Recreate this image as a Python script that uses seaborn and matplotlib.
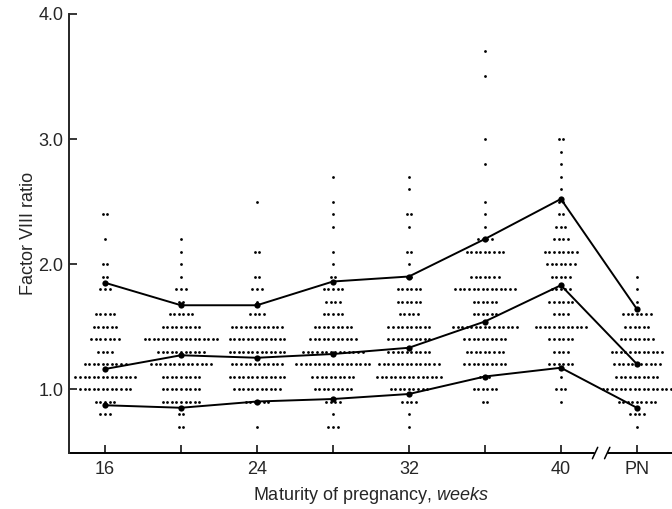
import matplotlib
matplotlib.use("Agg")
import matplotlib.pyplot as plt
import matplotlib.transforms as mtransforms
import numpy as np
import pandas as pd
import seaborn as sns

# groups along the x axis
weeks = ["16", "20", "24", "28", "32", "36", "40", "PN"]
tick_labels = ["16", "", "24", "", "32", "", "40", "PN"]

# individual results: ratio level -> number of women at that level
wk16 = {2.4: 2, 2.2: 1, 2.0: 2, 1.9: 2, 1.8: 3, 1.6: 5, 1.5: 6, 1.4: 7, 1.3: 4,
        1.2: 10, 1.1: 14, 1.0: 12, 0.9: 5, 0.8: 3}
wk20 = {2.2: 1, 2.1: 1, 2.0: 1, 1.9: 1, 1.8: 3, 1.7: 2, 1.6: 6, 1.5: 9, 1.4: 17,
        1.3: 11, 1.2: 14, 1.1: 9, 1.0: 9, 0.9: 9, 0.8: 2, 0.7: 2}
wk24 = {2.5: 1, 2.1: 2, 1.9: 2, 1.8: 3, 1.7: 1, 1.6: 4, 1.5: 12, 1.4: 13, 1.3: 13,
        1.2: 12, 1.1: 13, 1.0: 11, 0.9: 6, 0.7: 1}
wk28 = {2.7: 1, 2.5: 1, 2.4: 1, 2.3: 1, 2.1: 1, 2.0: 1, 1.9: 2, 1.8: 5, 1.7: 4,
        1.6: 5, 1.5: 9, 1.4: 11, 1.3: 14, 1.2: 17, 1.1: 10, 1.0: 9, 0.9: 4,
        0.8: 1, 0.7: 3}
wk32 = {2.7: 1, 2.6: 1, 2.4: 2, 2.3: 1, 2.1: 2, 2.0: 1, 1.9: 2, 1.8: 6, 1.7: 6,
        1.6: 5, 1.5: 10, 1.4: 10, 1.3: 10, 1.2: 14, 1.1: 15, 1.0: 9, 0.9: 4,
        0.8: 1, 0.7: 1}
wk36 = {3.7: 1, 3.5: 1, 3.0: 1, 2.8: 1, 2.5: 1, 2.4: 1, 2.3: 1, 2.2: 4, 2.1: 9,
        1.9: 7, 1.8: 14, 1.7: 6, 1.6: 6, 1.5: 15, 1.4: 10, 1.3: 9, 1.2: 10,
        1.1: 3, 1.0: 6, 0.9: 2}
wk40 = {3.0: 2, 2.9: 1, 2.8: 1, 2.7: 1, 2.6: 1, 2.5: 2, 2.4: 2, 2.3: 3, 2.2: 4,
        2.1: 8, 2.0: 7, 1.9: 5, 1.8: 5, 1.7: 6, 1.6: 4, 1.5: 12, 1.4: 6, 1.3: 4,
        1.2: 6, 1.1: 1, 1.0: 3, 0.9: 1}
postnatal = {1.9: 1, 1.8: 1, 1.7: 1, 1.6: 7, 1.5: 6, 1.4: 8, 1.3: 12, 1.2: 11,
             1.1: 10, 1.0: 16, 0.9: 9, 0.8: 4, 0.7: 1}

# centile lines
upper = [1.85, 1.67, 1.67, 1.86, 1.90, 2.20, 2.52, 1.64]
median = [1.16, 1.27, 1.25, 1.28, 1.33, 1.54, 1.83, 1.20]
lower = [0.87, 0.85, 0.90, 0.92, 0.96, 1.10, 1.17, 0.85]

groups = [wk16, wk20, wk24, wk28, wk32, wk36, wk40, postnatal]

# spread each level into a centred row of dots
spacing = 0.06
rows = []
for i, grp in enumerate(groups):
    for level, n in grp.items():
        offs = (np.arange(n) - (n - 1) / 2) * spacing
        for o in offs:
            rows.append({"pos": i + o, "ratio": level})
dots = pd.DataFrame(rows)

lines = pd.DataFrame({
    "pos": list(range(len(weeks))) * 3,
    "ratio": upper + median + lower,
    "centile": ["upper"] * 8 + ["median"] * 8 + ["lower"] * 8,
})

sns.set_style("ticks")
plt.rcParams["font.family"] = ["Liberation Sans", "DejaVu Sans"]
plt.rcParams["mathtext.fontset"] = "custom"
plt.rcParams["mathtext.rm"] = "Liberation Sans"
plt.rcParams["mathtext.it"] = "Liberation Sans:italic"

fig = plt.figure(figsize=(6.72, 5.09), dpi=100)
ax = fig.add_axes([0.1027, 0.110, 0.897, 0.8625])

sns.scatterplot(data=dots, x="pos", y="ratio", s=4, color="black",
                linewidth=0, ax=ax, legend=False)
sns.lineplot(data=lines, x="pos", y="ratio", units="centile", estimator=None,
             color="black", lw=1.4, marker="o", markersize=4.5,
             markeredgewidth=0, ax=ax, legend=False)

ax.set_xlim(-0.474, 7.46)
ax.set_ylim(0.488, 4.0)
ax.set_xticks(range(len(weeks)))
ax.set_xticklabels(tick_labels, fontsize=13)
ax.set_yticks([1.0, 2.0, 3.0, 4.0])
ax.set_yticklabels(["1.0", "2.0", "3.0", "4.0"], fontsize=13)
ax.tick_params(axis="both", direction="in", length=6, width=1.1, color="black")
ax.tick_params(axis="x", pad=6)
ax.tick_params(axis="y", pad=4)

ax.set_xlabel("Maturity of pregnancy, $\\mathit{weeks}$", fontsize=13, labelpad=5)
ax.set_ylabel("Factor VIII ratio", fontsize=13, labelpad=1)

sns.despine(ax=ax, top=True, right=True)
ax.spines["left"].set_linewidth(1.4)
ax.spines["bottom"].set_visible(False)

# broken x axis between 40 weeks and postnatal
tr = mtransforms.blended_transform_factory(ax.transData, ax.transAxes)
ax.plot([-0.474, 6.44], [0, 0], color="black", lw=1.4, transform=tr, clip_on=False)
ax.plot([6.62, 7.46], [0, 0], color="black", lw=1.4, transform=tr, clip_on=False)
for c in [6.45, 6.61]:
    ax.plot([c - 0.035, c + 0.035], [-0.013, 0.013], color="black", lw=1.1,
            transform=tr, clip_on=False)

fig.savefig("out.png", dpi=100)
